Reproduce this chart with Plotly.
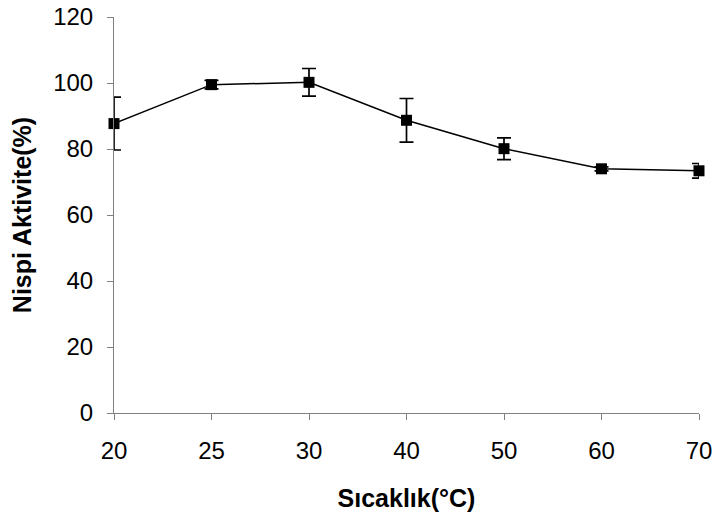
import plotly.graph_objects as go

temps = ["20", "25", "30", "40", "50", "60", "70"]
activity = [87.7, 99.5, 100.2, 88.7, 80.1, 74.0, 73.4]
err = [8.0, 1.3, 4.2, 6.6, 3.3, 0.6, 2.2]
y_ticks = [0, 20, 40, 60, 80, 100, 120]

fig = go.Figure()
fig.add_trace(go.Scatter(
    x=temps, y=activity,
    mode="lines+markers",
    line=dict(color="black", width=1.5),
    marker=dict(symbol="square", size=11, color="black"),
    error_y=dict(type="data", array=err, visible=True, color="black", thickness=1.7, width=7),
    cliponaxis=False,
    showlegend=False,
))

fig.update_layout(
    width=717, height=518,
    margin=dict(l=114, r=18, t=17, b=105),
    paper_bgcolor="white", plot_bgcolor="white",
    font=dict(family="Liberation Sans, Arial, sans-serif", color="black", size=24),
    xaxis=dict(
        type="category", range=[0, 6], automargin=False,
        showline=True, linecolor="#808080", linewidth=1,
        ticks="outside", ticklen=6, tickcolor="#808080",
        tickfont=dict(size=24), ticklabelstandoff=10,
        showgrid=False, zeroline=False,
        title=dict(text="<b>Sıcaklık(°C)</b>", font=dict(size=25), standoff=26),
    ),
    yaxis=dict(
        range=[0, 120], tickvals=y_ticks, automargin=False,
        showline=True, linecolor="#808080", linewidth=1,
        ticks="outside", ticklen=6, tickcolor="#808080",
        tickfont=dict(size=24), ticklabelstandoff=9,
        showgrid=False, zeroline=False,
        title=dict(text="<b>Nispi Aktivite(%)</b>", font=dict(size=25), standoff=14),
    ),
)

fig.write_html("out.html")
